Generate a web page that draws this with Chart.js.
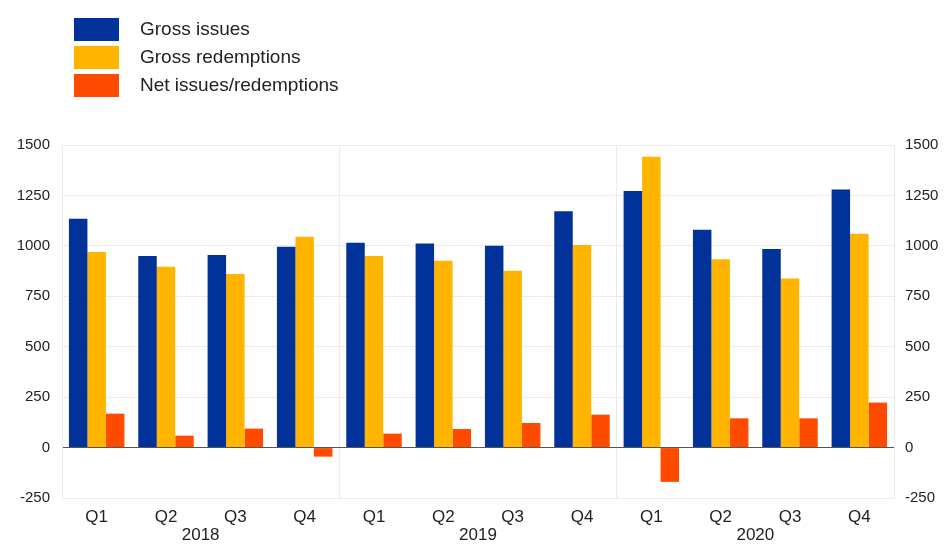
<!DOCTYPE html>
<html>
<head>
<meta charset="utf-8">
<script src="https://cdn.jsdelivr.net/npm/chart.js"></script>
<style>
  html, body { margin: 0; padding: 0; background: #fff; }
  #wrap { position: relative; width: 946px; height: 544px; }
  #legend { position: absolute; left: 74px; top: 15px; font-family: "Liberation Sans", Arial, sans-serif; font-size: 19px; color: #222; }
  .item { height: 28px; display: flex; align-items: center; }
  .box { width: 45px; height: 23px; margin-right: 21px; }
</style>
</head>
<body>
<div id="wrap">
  <canvas id="issuesChart" width="946" height="544"></canvas>
  <div id="legend"></div>
</div>
<script>
  // quarters, 2018 Q1 .. 2020 Q4
  var quarters = ['Q1', 'Q2', 'Q3', 'Q4', 'Q1', 'Q2', 'Q3', 'Q4', 'Q1', 'Q2', 'Q3', 'Q4'];
  var years = ['2018', '2019', '2020'];
  var grossIssues = [1134, 950, 955, 995, 1015, 1012, 1000, 1172, 1272, 1080, 985, 1280];
  var grossRedemptions = [970, 896, 861, 1045, 950, 926, 876, 1004, 1442, 933, 838, 1060];
  var netIssues = [168, 59, 94, -45, 69, 92, 122, 163, -170, 145, 145, 223];
  var seriesNames = ['Gross issues', 'Gross redemptions', 'Net issues/redemptions'];
  var seriesColors = ['#003299', '#FFB400', '#FF4B00'];

  var font = "'Liberation Sans', Arial, sans-serif";

  // legend in a column, top left
  var legend = document.getElementById('legend');
  seriesNames.forEach(function (name, i) {
    var row = document.createElement('div');
    row.className = 'item';
    row.innerHTML = '<div class="box" style="background:' + seriesColors[i] + '"></div><span>' + name + '</span>';
    legend.appendChild(row);
  });

  // year labels under Q2/Q3 of each year
  var yearLabels = {
    id: 'yearLabels',
    afterDraw: function (chart) {
      var x = chart.scales.x, c = chart.ctx;
      c.save();
      c.font = '17px ' + font;
      c.fillStyle = '#222';
      c.textAlign = 'center';
      c.textBaseline = 'middle';
      years.forEach(function (y, k) {
        var px = (x.getPixelForValue(k * 4 + 1) + x.getPixelForValue(k * 4 + 2)) / 2;
        c.fillText(y, px, 535);
      });
      c.restore();
    }
  };

  var plain = function (v) { return String(v); };

  var ctx = document.getElementById('issuesChart').getContext('2d');
  var issuesChart = new Chart(ctx, {
    type: 'bar',
    data: {
      labels: quarters,
      datasets: [
        { label: seriesNames[0], data: grossIssues, backgroundColor: seriesColors[0] },
        { label: seriesNames[1], data: grossRedemptions, backgroundColor: seriesColors[1] },
        { label: seriesNames[2], data: netIssues, backgroundColor: seriesColors[2] }
      ]
    },
    options: {
      responsive: false,
      animation: false,
      layout: { padding: { top: 145, right: 0, left: 0, bottom: 0 } },
      datasets: { bar: { categoryPercentage: 0.8, barPercentage: 1.0 } },
      plugins: { legend: { display: false }, tooltip: { enabled: false } },
      scales: {
        x: {
          afterFit: function (s) { s.height = 46; },
          grid: {
            offset: true,
            drawTicks: false,
            color: function (c) { return (c.index === 4 || c.index === 8) ? '#ececec' : 'transparent'; }
          },
          border: { display: false },
          ticks: { padding: 9, color: '#222', font: { family: font, size: 17 } }
        },
        y: {
          min: -250, max: 1500,
          afterFit: function (s) { s.width = 62; },
          ticks: { stepSize: 250, padding: 12, color: '#222', font: { family: font, size: 15 }, callback: plain },
          grid: {
            drawTicks: false,
            color: function (c) { return c.tick.value === 0 ? '#555' : '#ececec'; }
          },
          border: { color: '#ececec' }
        },
        y2: {
          position: 'right',
          min: -250, max: 1500,
          afterFit: function (s) { s.width = 52; },
          ticks: { stepSize: 250, padding: 11, color: '#222', font: { family: font, size: 15 }, callback: plain },
          grid: { display: false, drawTicks: false },
          border: { color: '#ececec' }
        }
      }
    },
    plugins: [yearLabels]
  });
</script>
</body>
</html>
